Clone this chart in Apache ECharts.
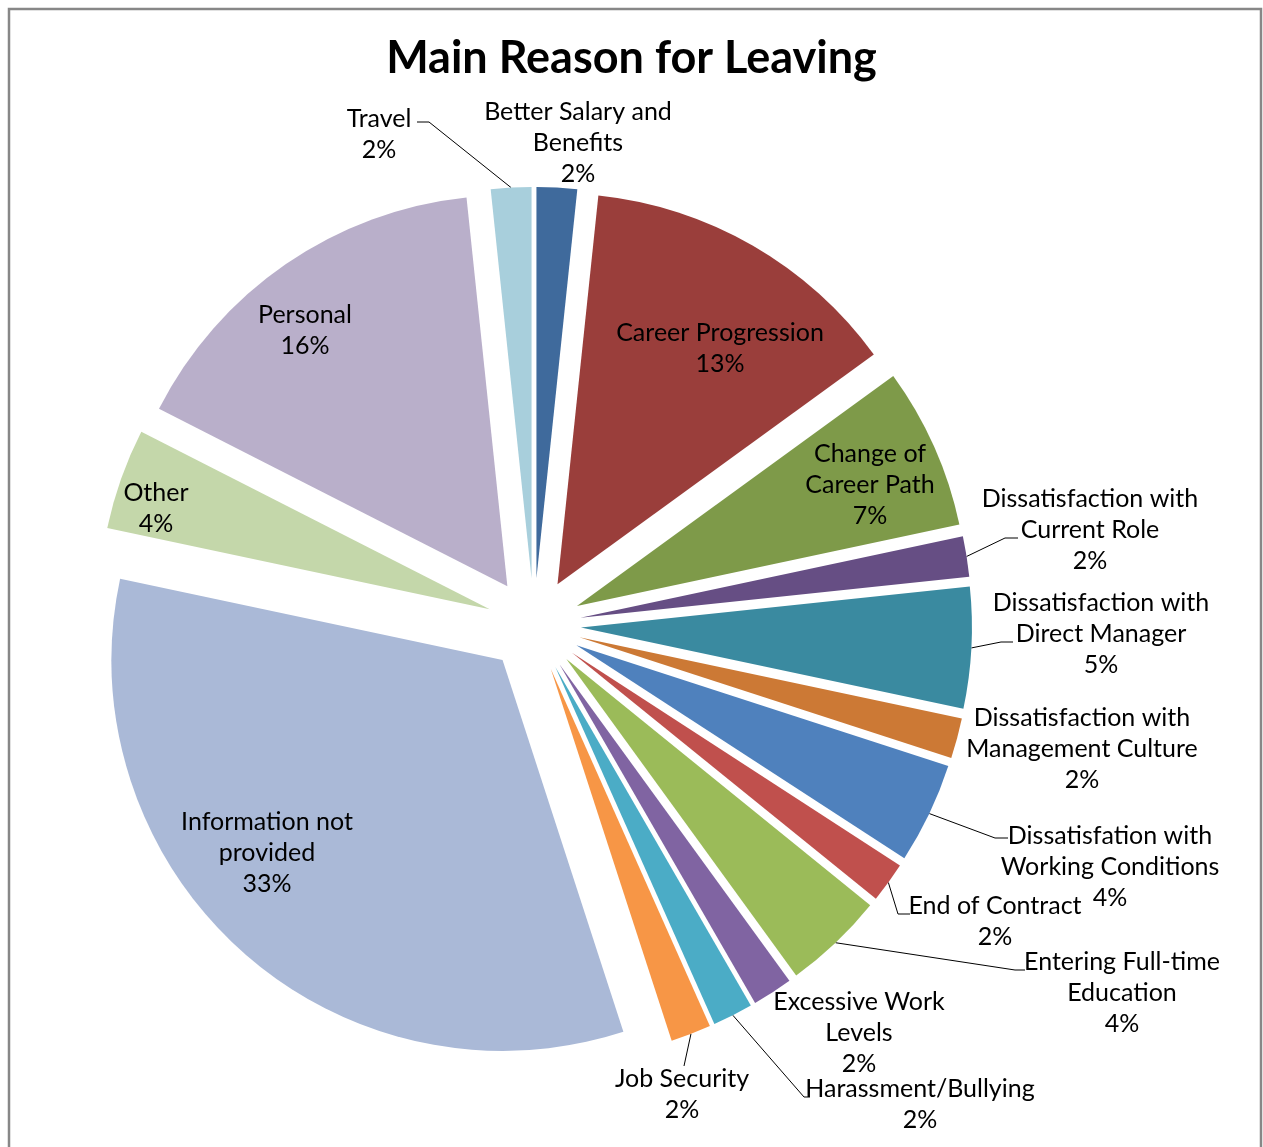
<!DOCTYPE html>
<html>
<head>
<meta charset="utf-8">
<script src="https://cdn.jsdelivr.net/npm/echarts@6/dist/echarts.min.js"></script>
<style>
html,body{margin:0;padding:0;background:#fff;}
#chart{width:1263px;height:1147px;}
</style>
</head>
<body>
<div id="chart"></div>
<script>
// ---- data (clockwise from 12 o'clock) ----
const categories = [
  'Better Salary and\nBenefits',
  'Career Progression',
  'Change of\nCareer Path',
  'Dissatisfaction with\nCurrent Role',
  'Dissatisfaction with\nDirect Manager',
  'Dissatisfaction with\nManagement Culture',
  'Dissatisfation with\nWorking Conditions',
  'End of Contract',
  'Entering Full-time\nEducation',
  'Excessive Work\nLevels',
  'Harassment/Bullying',
  'Job Security',
  'Information not\nprovided',
  'Other',
  'Personal',
  'Travel'
];
// estimated counts of leavers (shares)
const values = [2, 16, 8, 2, 6, 2, 5, 2, 5, 2, 2, 2, 40, 5, 19, 2];

// ---- styling / layout ----
const colors = [
  '#3F6A9C', '#9A3E3B', '#7E9A49', '#664E84', '#3A8AA0', '#CC7935',
  '#4F81BD', '#C0504D', '#9BBB59', '#8064A2', '#4BACC6', '#F79646',
  '#AAB9D7', '#C4D7AA', '#B9AFCA', '#A8CFDC'
];
// label block centres (px)
const labelPos = [
  [578, 143], [720, 348], [870, 485], [1090, 530], [1101, 634], [1082, 749],
  [1110, 867], [995, 921], [1122, 993], [859, 1033], [920, 1104], [682, 1094],
  [267, 853], [156, 508], [305, 330], [379, 134]
];
// leader line: [end offset from label centre dx, dy, horizontal stub length] or null
const leaderEnd = [
  null, null, null, [-72, 8, -13], [-88, 8, -12], null,
  [-102, -29, -13], [-85, -7, -12], [-97, -23, -10], null, [-110, -7, -6], [2, -28, 0],
  null, null, null, [38, -12, 12]
];

const CX = 534, CY = 625, R = 391, EXPLODE = 47;
const FONT = 'Lato, "Open Sans", sans-serif';

const chart = echarts.init(document.getElementById('chart'), null, {renderer: 'canvas'});

// every slice is exploded along its own bisector: one pie series per slice
const total = values.reduce(function (a, b) { return a + b; }, 0);
let cum = 0;
const series = values.map(function (v, i) {
  const mid = (cum + v / 2) / total * 2 * Math.PI;
  cum += v;
  const center = [CX + EXPLODE * Math.sin(mid), CY - EXPLODE * Math.cos(mid)];
  const arcMid = [center[0] + R * Math.sin(mid), center[1] - R * Math.cos(mid)];
  return {
    type: 'pie',
    center: center,
    radius: [0, R],
    startAngle: 90,
    clockwise: true,
    avoidLabelOverlap: false,
    silent: true,
    itemStyle: {borderWidth: 0},
    label: {
      show: true,
      position: 'outside',
      color: '#000',
      fontFamily: FONT,
      fontSize: 25,
      lineHeight: 31,
      align: 'center',
      formatter: function (p) { return p.name + '\n' + Math.round(p.percent) + '%'; }
    },
    labelLine: {show: true, length: 10, length2: 12, smooth: false, lineStyle: {color: '#000', width: 1}},
    labelLayout: function (p) {
      const pos = labelPos[p.dataIndex];
      const out = {x: pos[0], y: pos[1], align: 'center', verticalAlign: 'middle'};
      const le = leaderEnd[p.dataIndex];
      if (le) {
        const end = [pos[0] + le[0], pos[1] + le[1]];
        const elbow = [end[0] + le[2], end[1]];
        out.labelLinePoints = [arcMid, elbow, end];
      }
      return out;
    },
    data: categories.map(function (n, j) {
      if (j === i) {
        return {name: n, value: values[j], itemStyle: {color: colors[j]}, labelLine: {show: !!leaderEnd[j]}};
      }
      return {name: n, value: values[j], itemStyle: {color: 'rgba(0,0,0,0)'},
              label: {show: false}, labelLine: {show: false}};
    })
  };
});

chart.setOption({
  backgroundColor: '#fff',
  animation: false,
  title: {
    text: 'Main Reason for Leaving',
    left: 'center',
    top: 31,
    textStyle: {fontFamily: FONT, fontSize: 45, fontWeight: 'bold', color: '#000'}
  },
  graphic: [{
    type: 'rect',
    shape: {x: 9, y: 9, width: 1252, height: 1160},
    style: {fill: 'none', stroke: '#878787', lineWidth: 2.5},
    silent: true
  }],
  series: series
});
</script>
</body>
</html>
